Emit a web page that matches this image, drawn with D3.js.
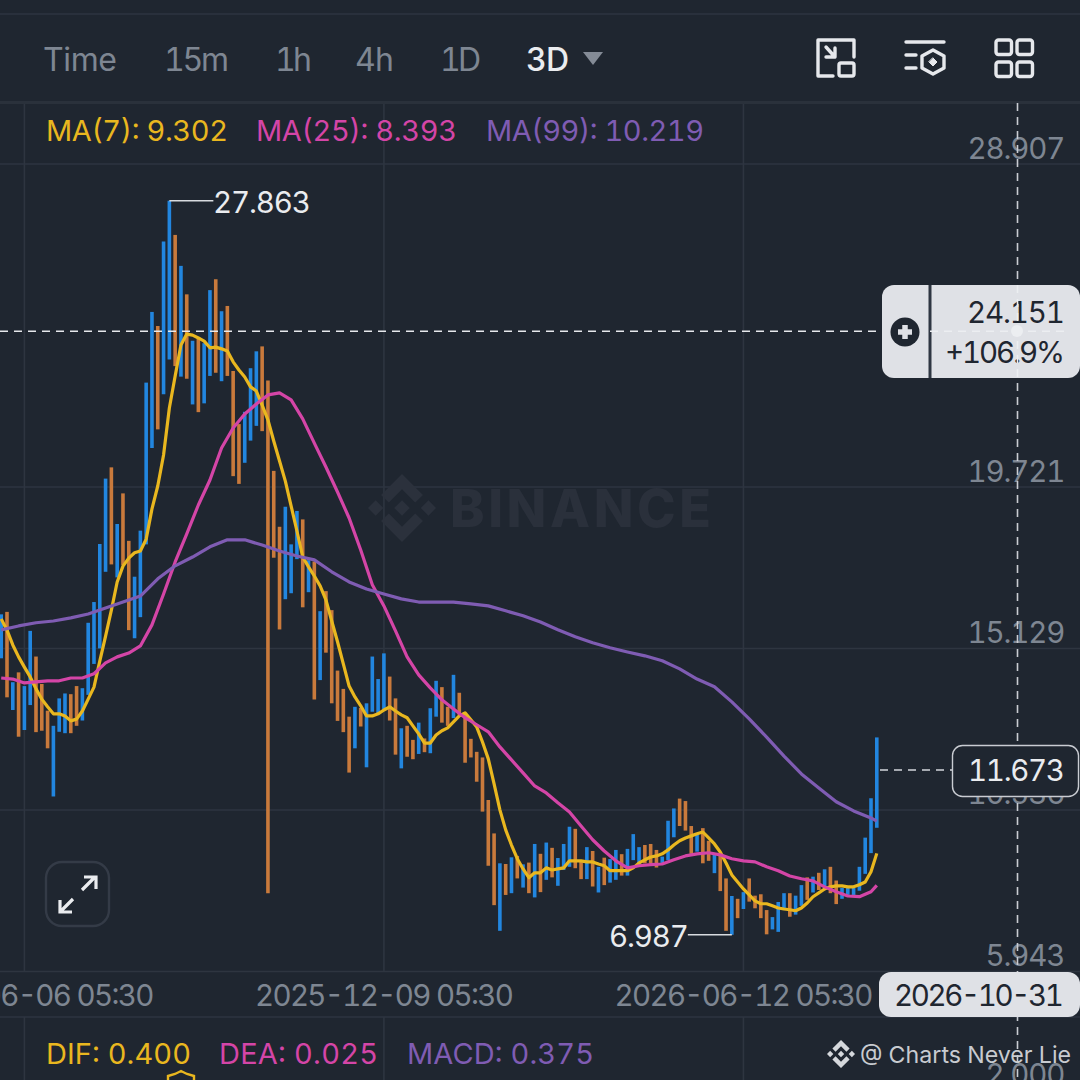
<!DOCTYPE html>
<html>
<head>
<meta charset="utf-8">
<script src="https://cdn.jsdelivr.net/npm/d3@7/dist/d3.min.js"></script>
<style>
html, body { margin: 0; padding: 0; background: #1f2630; overflow: hidden; }
svg { display: block; font-family: Inter, "Noto Sans", sans-serif; font-variant-numeric: tabular-nums; }
</style>
</head>
<body>
<div class="container"></div>
<script>
// 3D candles, high and low
var highs = [16.10,16.17,14.17,14.45,14.06,15.63,14.90,14.12,13.36,12.93,13.71,13.85,13.83,14.06,14.00,15.86,16.45,18.10,19.96,20.28,
  18.67,19.54,18.19,17.17,18.48,22.69,24.70,24.30,26.70,27.863,26.89,26.01,25.20,23.88,23.93,23.81,25.32,25.63,24.72,24.87,
  23.02,21.51,21.86,23.10,23.58,23.72,22.75,20.18,18.59,19.16,18.09,19.04,18.80,17.64,17.60,16.19,16.76,16.22,14.50,13.98,
  13.19,13.47,13.44,13.57,14.90,14.26,14.99,14.33,13.71,12.86,12.93,12.53,13.02,12.57,13.43,14.21,14.03,13.47,14.38,13.87,
  13.24,12.56,12.19,12.03,10.82,9.87,9.02,9.00,9.19,9.23,8.99,9.04,9.57,9.29,9.61,9.46,9.17,9.57,10.06,10.00,
  9.11,9.48,9.37,8.92,9.18,9.14,9.40,9.28,9.43,9.85,9.48,9.54,9.57,9.40,9.21,10.23,10.58,10.86,10.79,10.08,
  9.83,10.02,9.66,9.31,9.26,8.59,8.09,8.01,8.20,8.59,8.10,8.14,7.69,7.49,7.92,8.17,8.17,8.10,8.40,8.62,
  8.64,8.75,8.85,8.92,8.53,8.32,8.32,8.32,8.92,9.75,10.87,12.60];
var lows = [14.85,13.74,13.38,12.62,12.81,13.52,12.75,12.79,12.29,10.92,12.76,12.72,12.72,12.93,13.08,13.81,14.69,15.13,17.31,17.52,
  17.15,17.50,15.65,15.42,16.02,18.09,20.83,21.36,22.36,23.35,23.16,22.86,22.80,22.07,21.85,22.10,22.88,22.97,22.73,22.88,
  20.03,19.81,20.41,21.04,21.46,21.31,8.17,17.71,15.67,16.53,16.70,17.67,16.30,16.73,13.68,14.23,15.01,13.57,13.07,12.75,
  11.60,12.29,12.91,11.75,13.33,13.29,13.38,13.08,12.11,11.72,12.05,11.98,12.13,12.18,12.15,13.19,13.02,12.93,13.15,13.24,
  11.88,12.03,11.34,10.49,8.95,7.83,7.10,8.12,8.17,8.59,8.33,8.17,8.05,8.20,8.55,8.62,8.38,8.83,8.92,8.88,
  8.57,8.57,8.36,8.19,8.40,8.47,8.55,8.67,8.67,9.11,8.97,9.02,9.02,8.90,9.03,9.11,9.76,10.08,9.95,9.29,
  9.35,9.02,9.09,8.74,8.23,7.10,6.987,7.46,7.72,7.93,7.74,7.46,7.00,7.14,7.07,7.69,7.50,7.56,7.81,7.98,
  8.19,8.26,8.31,8.17,7.86,8.01,8.12,8.12,8.24,8.72,9.31,10.03];
// 1 = blue, 0 = orange
var rising = [1,0,1,0,1,1,0,0,0,1,1,1,0,0,1,1,1,1,1,0,
  1,0,0,1,1,1,1,0,1,1,0,1,0,1,0,1,1,0,1,0,
  0,0,1,1,1,0,0,0,0,1,1,1,0,1,0,1,0,0,0,0,
  0,1,0,1,1,1,1,0,0,1,0,0,1,0,1,1,0,0,1,0,
  0,0,0,0,0,0,1,0,1,0,1,0,1,0,1,0,1,1,1,0,
  0,1,0,1,0,1,1,0,1,1,1,0,0,0,1,1,1,0,0,0,
  1,0,0,1,0,0,1,0,1,0,0,0,0,1,1,1,0,1,1,0,
  1,0,1,0,0,1,1,1,1,1,1,1];

var ma7 = [15.97,15.65,15.23,14.89,14.60,14.32,13.98,13.69,13.47,13.27,13.27,13.21,13.07,13.12,13.35,13.69,14.03,14.77,15.48,16.22,
  17.02,17.47,17.70,17.85,17.90,18.24,19.10,19.75,20.63,21.97,22.88,23.76,24.07,24.04,23.96,23.87,23.68,23.70,23.65,23.59,
  23.28,23.05,22.85,22.57,22.45,22.05,21.63,21.03,20.46,19.89,19.18,18.47,17.73,17.45,17.19,16.91,16.51,15.91,15.32,14.69,
  14.06,13.75,13.50,13.21,13.21,13.27,13.38,13.47,13.35,13.24,13.16,12.93,12.70,12.44,12.44,12.67,12.79,12.87,13.04,13.21,
  13.30,13.10,12.90,12.47,11.99,11.28,10.54,9.97,9.54,9.15,8.86,8.61,8.75,8.75,8.89,8.83,8.86,8.89,9.09,9.09,
  9.09,9.06,9.06,9.00,8.95,8.81,8.81,8.81,8.81,8.89,9.03,9.12,9.20,9.23,9.29,9.40,9.54,9.66,9.74,9.80,
  9.86,9.91,9.74,9.57,9.34,9.03,8.69,8.49,8.29,8.12,7.95,7.87,7.87,7.81,7.75,7.72,7.70,7.67,7.75,7.89,
  8.07,8.18,8.29,8.35,8.38,8.38,8.35,8.35,8.41,8.49,8.78,9.302];
var ma25At = d3.range(0, 152, 2).concat([151]);
var ma25 = [14.29,14.26,14.15,14.18,14.21,14.21,14.29,14.29,14.41,14.72,14.89,15.00,15.20,15.80,16.68,17.59,18.39,19.21,19.92,20.83,
  21.40,21.80,22.08,22.34,22.40,22.20,21.66,20.97,20.29,19.58,18.84,17.93,16.94,16.34,15.63,14.89,14.38,14.01,13.67,13.41,
  13.16,12.96,12.76,12.33,11.96,11.59,11.22,11.02,10.74,10.48,10.08,9.69,9.37,9.09,8.89,8.95,8.98,9.00,9.12,9.23,
  9.29,9.32,9.26,9.15,9.09,9.06,8.92,8.81,8.66,8.58,8.52,8.35,8.21,8.09,8.07,8.21,8.393];
var ma99At = d3.range(0, 152, 3).concat([151]);
var ma99 = [15.66,15.77,15.86,15.91,16.00,16.11,16.28,16.45,16.62,17.11,17.48,17.73,18.02,18.22,18.22,18.07,17.90,17.76,17.65,17.31,
  17.02,16.82,16.68,16.54,16.45,16.45,16.45,16.40,16.34,16.20,16.06,15.88,15.66,15.46,15.29,15.15,15.03,14.92,14.78,14.55,
  14.26,14.04,13.61,13.13,12.61,12.07,11.56,11.16,10.77,10.51,10.31,10.219];

var priceTicks = [28.907, 19.721, 15.129, 10.536, 5.943];
var timeTickAt = [4, 66, 128];
var timeTickLabels = ["2025-06-06 05:30", "2025-12-09 05:30", "2026-06-12 05:30"];
var periods = ["Time", "15m", "1h", "4h", "1D", "3D"];
var legendLabels = ["MA(7): 9.302", "MA(25): 8.393", "MA(99): 10.219"];
var macdLabels = ["DIF: 0.400", "DEA: 0.025", "MACD: 0.375"];

var lastPrice = 11.673;
var crossPrice = 24.151;
var highAt = 29, lowAt = 126;

// 颜色
var bg = "#1f2630", gridColor = "#2e3540", axisText = "#7e8692";
var blue = "#2286df", orange = "#c97a3c";
var yellow = "#e9b71f", pink = "#d445a7", purple = "#7f5cb3";
var paper = "#dfe1e6";

var svg = d3.select(".container").append("svg")
  .attr("width", 1080).attr("height", 1080);
svg.append("rect").attr("width", 1080).attr("height", 1080).attr("fill", bg);

var x = d3.scaleLinear().domain([0, 151]).range([1.2, 876.8]);
var y = d3.scaleLinear().domain([5.943, 28.907]).range([971.5, 164]);

// 网格
var grid = svg.append("g").attr("stroke", gridColor).attr("stroke-width", 1.6);
grid.selectAll(".h").data(priceTicks).enter().append("line")
  .attr("x1", 0).attr("x2", 1080)
  .attr("y1", function(d) { return y(d); }).attr("y2", function(d) { return y(d); });
grid.selectAll(".v").data(timeTickAt).enter().append("line")
  .attr("x1", function(d) { return x(d); }).attr("x2", function(d) { return x(d); })
  .attr("y1", 103).attr("y2", 971);
grid.selectAll(".v2").data(timeTickAt).enter().append("line")
  .attr("x1", function(d) { return x(d); }).attr("x2", function(d) { return x(d); })
  .attr("y1", 1017).attr("y2", 1080);
[14, 1017].forEach(function(v) {
  grid.append("line").attr("x1", 0).attr("x2", 1080).attr("y1", v).attr("y2", v);
});
grid.append("line").attr("x1", 0).attr("x2", 1080).attr("y1", 102.5).attr("y2", 102.5).attr("stroke-width", 3).attr("stroke", "#2a313b");

// Binance logo
var logoPaths = [
  "M38.73 53.2l24.59-24.58 24.6 24.6 14.3-14.31-38.9-38.91-38.9 38.9z",
  "M0 63.31l14.3-14.31 14.31 14.31-14.31 14.3z",
  "M38.73 73.41l24.59 24.59 24.6-24.6 14.31 14.29-38.9 38.91-38.91-38.88-.02-.02z",
  "M98.28 63.31l14.3-14.31 14.03 14.3-14.03 14.31z",
  "M77.83 63.3l-14.51-14.52-10.73 10.73-1.24 1.23-2.54 2.54 14.51 14.5 14.51-14.47z"
];
function logo(cx, cy, size, fill) {
  var k = size / 126.6;
  svg.append("g")
    .attr("transform", "translate(" + (cx - size / 2) + "," + (cy - size / 2) + ") scale(" + k + ")")
    .attr("fill", fill)
    .selectAll("path").data(logoPaths).enter().append("path").attr("d", function(d) { return d; });
}

// 水印
logo(402, 508, 68, "#2b313c");
svg.append("text").attr("x", 450).attr("y", 527).attr("font-size", 52).attr("font-weight", 800)
  .attr("letter-spacing", 3.6).attr("fill", "#2a303b").text("BINANCE");

// K线
svg.append("g").selectAll("line").data(highs).enter().append("line")
  .attr("x1", function(d, i) { return x(i); })
  .attr("x2", function(d, i) { return x(i); })
  .attr("y1", function(d) { return y(d); })
  .attr("y2", function(d, i) { return y(lows[i]); })
  .attr("stroke", function(d, i) { return rising[i] ? blue : orange; })
  .attr("stroke-width", 3.6);

// 均线
function maLine(at, values, color) {
  var line = d3.line()
    .x(function(d, i) { return x(at[i]); })
    .y(function(d) { return y(d); });
  svg.append("path").attr("d", line(values))
    .attr("fill", "none").attr("stroke", color).attr("stroke-width", 3.2)
    .attr("stroke-linejoin", "round");
}
maLine(d3.range(152), ma7, yellow);
maLine(ma25At, ma25, pink);
maLine(ma99At, ma99, purple);

// 最高 最低
function marker(i, price, dir, textX, anchor, len) {
  svg.append("line")
    .attr("x1", x(i)).attr("x2", x(i) + dir * 44)
    .attr("y1", y(price)).attr("y2", y(price))
    .attr("stroke", "#d8dbe0").attr("stroke-width", 1.6);
  svg.append("text").attr("x", textX).attr("y", y(price) + 12)
    .attr("text-anchor", anchor).attr("font-size", 29.5).attr("textLength", len)
    .attr("fill", "#eaecef").text(d3.format(".3f")(price));
}
marker(highAt, highs[highAt], 1, 213, "start", 98);
marker(lowAt, lows[lowAt], -1, 689, "end", 80);

// 价格轴
var yAxis = d3.axisRight(y).tickValues(priceTicks).tickFormat(d3.format(".3f")).tickSize(0);
var yg = svg.append("g").attr("transform", "translate(1065.5,0)").call(yAxis);
yg.attr("font-family", null).attr("font-size", null);
yg.select(".domain").remove();
yg.selectAll("text").attr("x", 0).attr("dy", "-6px").attr("text-anchor", "end")
  .attr("font-size", 29.5)
  .attr("textLength", function(d) { return d < 10 ? 80 : 98; })
  .attr("fill", axisText);
svg.append("text").attr("x", 1065.5).attr("y", 1085).attr("text-anchor", "end")
  .attr("font-size", 29.5).attr("textLength", 80).attr("fill", axisText).text("2.000");

// 时间轴
var xAxis = d3.axisBottom(x).tickValues(timeTickAt)
  .tickFormat(function(d, i) { return timeTickLabels[i]; }).tickSize(0);
var xg = svg.append("g").attr("transform", "translate(0,979)").call(xAxis);
xg.attr("font-family", null).attr("font-size", null);
xg.select(".domain").remove();
xg.selectAll("text").attr("y", 27).attr("dy", 0).attr("font-size", 29.5)
  .attr("textLength", 259).attr("fill", axisText);

// 十字线
function dashed(x1, y1, x2, y2, color) {
  svg.append("line").attr("x1", x1).attr("y1", y1).attr("x2", x2).attr("y2", y2)
    .attr("stroke", color).attr("stroke-width", 1.6).attr("stroke-dasharray", "8 6");
}
dashed(0, y(crossPrice), 882, y(crossPrice), "#e6e8ec");
dashed(1017.5, 103, 1017.5, 1080, "#c9ccd2");
dashed(880, y(lastPrice), 952, y(lastPrice), "#d3d6db");

// 十字线价格框
svg.append("rect").attr("x", 882).attr("y", 285).attr("width", 198).attr("height", 93).attr("rx", 12).attr("fill", paper);
svg.append("line").attr("x1", 930).attr("x2", 930).attr("y1", 285).attr("y2", 378).attr("stroke", "#2e3642").attr("stroke-width", 3);
svg.append("circle").attr("cx", 905).attr("cy", 332).attr("r", 14.5).attr("fill", "#1f2630");
svg.append("path").attr("d", "M905 325v14M898 332h14").attr("stroke", paper).attr("stroke-width", 5.5);
svg.append("text").attr("x", 1065).attr("y", 323).attr("text-anchor", "end").attr("font-size", 29.5).attr("textLength", 98)
  .attr("fill", "#1f2630").text(d3.format(".3f")(crossPrice));
svg.append("text").attr("x", 1065).attr("y", 363).attr("text-anchor", "end").attr("font-size", 29.5).attr("textLength", 120)
  .attr("fill", "#1f2630").text("+106.9%");
dashed(930, y(crossPrice), 1065, y(crossPrice), "#eceef1");
dashed(1017.5, 285, 1017.5, 378, "#eceef1");
svg.append("circle").attr("cx", 1017).attr("cy", 331).attr("r", 6).attr("fill", "#eceef1");

// 最新价
svg.append("rect").attr("x", 952.5).attr("y", 745.5).attr("width", 126).attr("height", 51).attr("rx", 10)
  .attr("fill", bg).attr("stroke", "#c9ccd2").attr("stroke-width", 1.4);
svg.append("text").attr("x", 1065).attr("y", 781).attr("text-anchor", "end").attr("font-size", 29.5).attr("textLength", 97)
  .attr("fill", "#eaecef").text(d3.format(".3f")(lastPrice));

// 日期框
svg.append("rect").attr("x", 879).attr("y", 972).attr("width", 201).attr("height", 45).attr("rx", 12).attr("fill", paper);
svg.append("text").attr("x", 979).attr("y", 1006).attr("text-anchor", "middle").attr("font-size", 29.5).attr("textLength", 170)
  .attr("fill", "#1f2630").text("2026-10-31");

// 周期
var periodX = [43, 164, 275, 355, 440, 526];
var periodW = [74, 65, 37, 39, 41, 43];
svg.append("g").selectAll("text").data(periods).enter().append("text")
  .attr("x", function(d, i) { return periodX[i]; }).attr("y", 71)
  .attr("font-size", 32)
  .attr("textLength", function(d, i) { return periodW[i]; })
  .attr("font-weight", function(d) { return d == "3D" ? 500 : 400; })
  .attr("fill", function(d) { return d == "3D" ? "#eaecef" : axisText; })
  .text(function(d) { return d; });
svg.append("path").attr("d", "M583 52h20l-10 13z").attr("fill", "#848b96");

// 图例
var legendX = [46, 256, 486], legendW = [182, 201, 218], legendColor = [yellow, pink, purple];
svg.append("g").selectAll("text").data(legendLabels).enter().append("text")
  .attr("x", function(d, i) { return legendX[i]; }).attr("y", 141)
  .attr("font-size", 29).attr("textLength", function(d, i) { return legendW[i]; })
  .attr("fill", function(d, i) { return legendColor[i]; })
  .text(function(d) { return d; });
var macdX = [46, 219, 407], macdW = [145, 159, 187];
svg.append("g").selectAll("text").data(macdLabels).enter().append("text")
  .attr("x", function(d, i) { return macdX[i]; }).attr("y", 1064)
  .attr("font-size", 29).attr("textLength", function(d, i) { return macdW[i]; })
  .attr("fill", function(d, i) { return legendColor[i]; })
  .text(function(d) { return d; });
svg.append("path").attr("d", "M168 1080v-4l7-2 6-3 6 3 7 2v4").attr("fill", "none").attr("stroke", yellow).attr("stroke-width", 2.4);

// 水印 右下
logo(841, 1054, 28, "#d5d8dc");
svg.append("text").attr("x", 860).attr("y", 1063).attr("font-size", 23.2).attr("fill", "#c8cbd0").text("@ Charts Never Lie");

// 右上图标
var icons = svg.append("g").attr("fill", "none").attr("stroke", "#e6e8ec").attr("stroke-width", 3.4)
  .attr("stroke-linecap", "round").attr("stroke-linejoin", "round");
icons.append("path").attr("d", "M833 76H818V40H854V57");
icons.append("rect").attr("x", 839).attr("y", 63).attr("width", 15).attr("height", 13).attr("rx", 2);
icons.append("path").attr("d", "M826 47L835 57M835 48V57H826");
icons.append("path").attr("d", "M906 42H944M906 55H916M906 68H916");
icons.append("path").attr("d", "M933 50L944 56V68L933 74L922 68V56Z");
icons.append("path").attr("d", "M933 58l4 4-4 4-4-4z").attr("fill", "#e6e8ec").attr("stroke-width", 1);
[[996, 40], [1017, 40], [996, 62], [1017, 62]].forEach(function(p) {
  icons.append("rect").attr("x", p[0]).attr("y", p[1]).attr("width", 15.5).attr("height", 14.5).attr("rx", 2.5);
});

// 放大按钮
svg.append("rect").attr("x", 46).attr("y", 862).attr("width", 63).attr("height", 64).attr("rx", 16)
  .attr("fill", "none").attr("stroke", "#343b47").attr("stroke-width", 2.4);
svg.append("path").attr("d", "M82 890L95 877M84 877H96V889M73 899L60 912M60 900V912H72")
  .attr("fill", "none").attr("stroke", "#eaecef").attr("stroke-width", 3.2);
</script>
</body>
</html>
